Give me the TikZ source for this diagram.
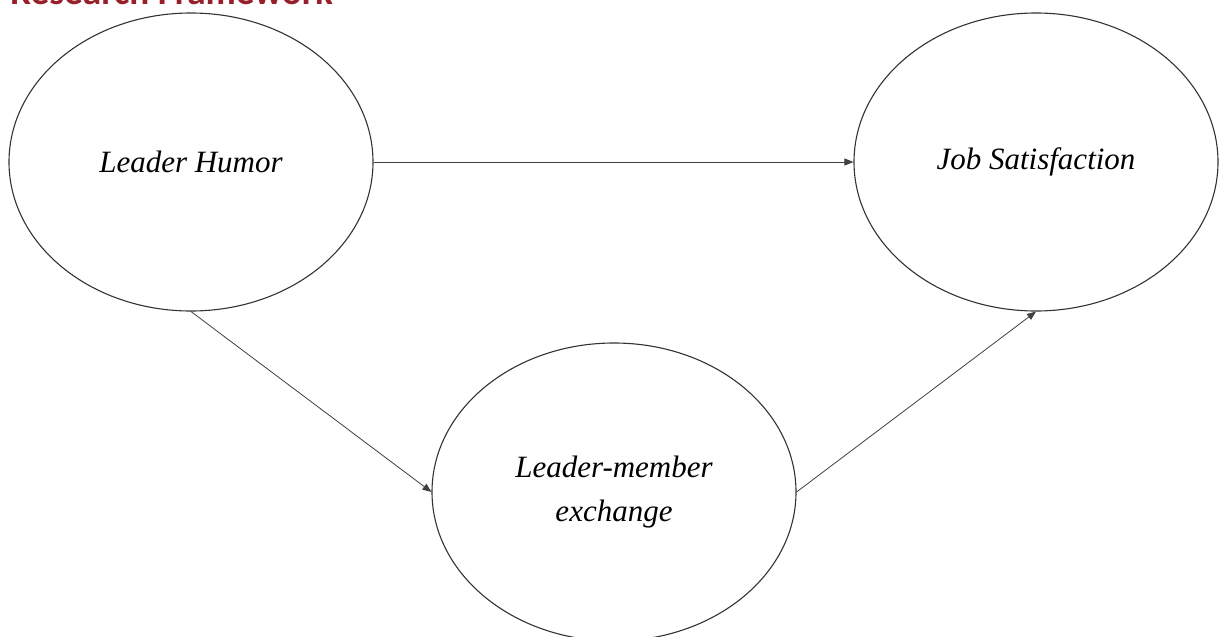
\documentclass[tikz,border=0pt]{standalone}
\usepackage{fontspec}
\setmainfont{Liberation Serif}
\newfontfamily\titlefont{Carlito}
\usetikzlibrary{shapes.geometric,arrows.meta}
\definecolor{titlered}{RGB}{152,32,42}
\begin{document}
\begin{tikzpicture}[x=1pt,y=-1pt,
  ell/.style={draw=black!80, line width=1.1pt, ellipse, minimum width=364pt, minimum height=298pt, inner sep=0pt, font=\fontsize{31}{44}\selectfont\itshape, align=center},
  conn/.style={draw=black!75, line width=0.8pt, -{Triangle[length=9pt,width=7pt]}},
  ttl/.style={anchor=base west, inner sep=0pt, text=titlered, font=\titlefont\bfseries\fontsize{37.2}{40}\selectfont}]
\useasboundingbox (0,0) rectangle (1219,637);
\node[ttl] (title) at (10,4.5) {Research Framework};
\node[ell] (lh) at (191,162) {Leader Humor};
\node[ell] (js) at (1036,162) {Job Satisfaction};
\node[ell] (lmx) at (614,492) {Leader-member\\exchange};
\draw[conn] (lh.east) -- (js.west);
\draw[conn] (lh.south) -- (lmx.west);
\draw[conn] (lmx.east) -- (js.south);
\end{tikzpicture}
\end{document}
